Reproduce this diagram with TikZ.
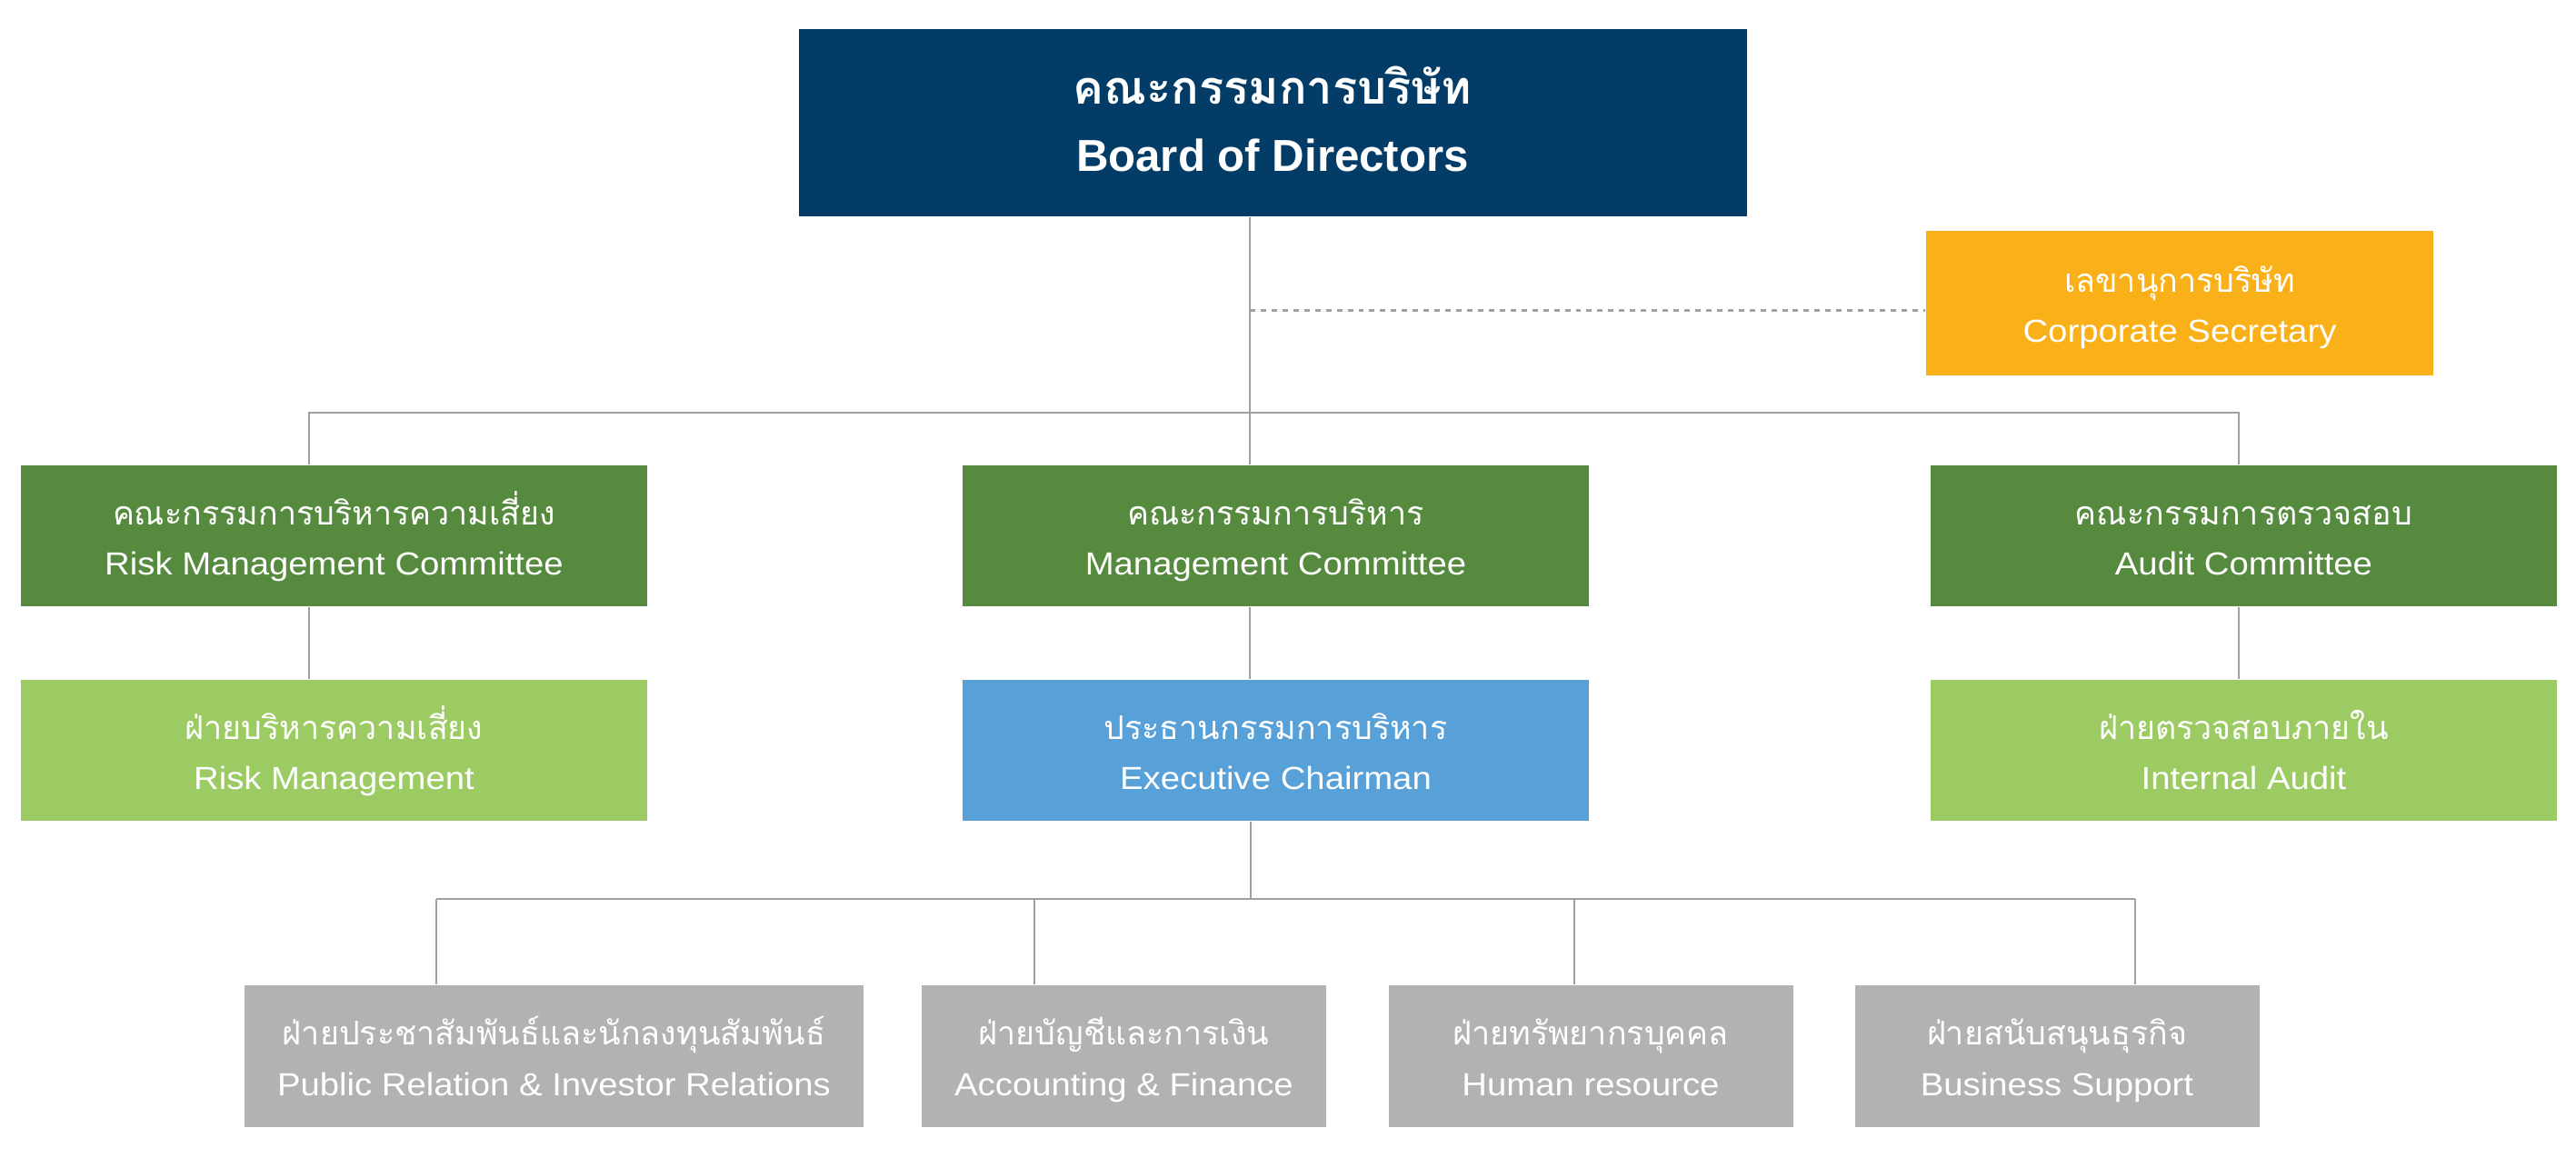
\documentclass[tikz,border=0pt]{standalone}
\usepackage{fontspec}
\setmainfont{Liberation Sans}[FakeStretch=1.09]
\newfontfamily\boardfont{Liberation Sans}
\newfontfamily\thaifont{Loma}[Script=Thai]
\usepackage{tikz}
\usetikzlibrary{calc}
\definecolor{boardblue}{RGB}{3,61,103}
\definecolor{secgold}{RGB}{250,176,24}
\definecolor{darkgreen}{RGB}{86,139,63}
\definecolor{lightgreen}{RGB}{156,203,99}
\definecolor{chairblue}{RGB}{88,160,216}
\definecolor{deptgray}{RGB}{178,178,178}
\definecolor{linegray}{RGB}{160,160,160}
\newcommand{\thline}[1]{{\thaifont\fontsize{10.2}{15.9}\selectfont #1}}

\begin{document}
\begin{tikzpicture}[
    unit/.style={minimum width=6.89cm, minimum height=1.55cm, inner sep=0pt, text=white, align=center,
                 text height=0.87cm, text depth=0cm, font=\fontsize{10}{15.9}\selectfont},
    dept/.style={unit, fill=deptgray, minimum width=4.45cm, minimum height=1.56cm},
    link/.style={draw=linegray, line width=0.6pt},
    dashlink/.style={link, dash pattern=on 1.7pt off 1.7pt},
]
    \useasboundingbox (0,0) rectangle (28.34,-12.74);

    % Board and secretary
    \node[unit, fill=boardblue, minimum width=10.43cm, minimum height=2.06cm, text height=1.08cm,
          font=\boardfont\bfseries\fontsize{14}{21.3}\selectfont] (board) at (14.00,-1.35)
          {{\thaifont\bfseries\fontsize{14.4}{21.3}\selectfont คณะกรรมการบริษัท}\\Board of Directors};
    \node[unit, fill=secgold, minimum width=5.58cm, minimum height=1.59cm] (corp) at (23.98,-3.335)
          {\thline{เลขานุการบริษัท}\\Corporate Secretary};

    % Committees
    \node[unit, fill=darkgreen] (rmc) at (3.675,-5.895) {\thline{คณะกรรมการบริหารความเสี่ยง}\\Risk Management Committee};
    \node[unit, fill=darkgreen] (mc) at (14.035,-5.895) {\thline{คณะกรรมการบริหาร}\\Management Committee};
    \node[unit, fill=darkgreen] (ac) at (24.685,-5.895) {\thline{คณะกรรมการตรวจสอบ}\\Audit Committee};

    % Second row
    \node[unit, fill=lightgreen] (rm) at (3.675,-8.255) {\thline{ฝ่ายบริหารความเสี่ยง}\\Risk Management};
    \node[unit, fill=chairblue] (ec) at (14.035,-8.255) {\thline{ประธานกรรมการบริหาร}\\Executive Chairman};
    \node[unit, fill=lightgreen] (ia) at (24.685,-8.255) {\thline{ฝ่ายตรวจสอบภายใน}\\Internal Audit};

    % Departments
    \node[dept, minimum width=6.81cm] (pr) at (6.095,-11.62) {\thline{ฝ่ายประชาสัมพันธ์และนักลงทุนสัมพันธ์}\\Public Relation \& Investor Relations};
    \node[dept] (af) at (12.365,-11.62) {\thline{ฝ่ายบัญชีและการเงิน}\\Accounting \& Finance};
    \node[dept] (hr) at (17.50,-11.62) {\thline{ฝ่ายทรัพยากรบุคคล}\\Human resource};
    \node[dept] (bs) at (22.63,-11.62) {\thline{ฝ่ายสนับสนุนธุรกิจ}\\Business Support};

    % Bus points
    \coordinate (trunk) at (13.75,-4.54);
    \coordinate (busL) at (3.40,-4.54);
    \coordinate (busR) at (24.63,-4.54);
    \coordinate (secjoin) at ($(corp.west)+(0,-0.08)$);
    \coordinate (split) at (13.76,-9.89);
    \coordinate (prdrop) at (4.80,-9.89);
    \coordinate (afdrop) at (11.38,-9.89);
    \coordinate (hrdrop) at (17.32,-9.89);
    \coordinate (bsdrop) at (23.49,-9.89);

    % Upper links
    \draw[link] (board.south -| trunk) -- (mc.north -| trunk);
    \draw[dashlink] (secjoin -| trunk) -- (secjoin);
    \draw[link] (rmc.north -| busL) |- (busR) -- (ac.north -| busR);
    \draw[link] (rmc.south -| busL) -- (rm.north -| busL);
    \draw[link] (mc.south -| trunk) -- (ec.north -| trunk);
    \draw[link] (ac.south -| busR) -- (ia.north -| busR);

    % Lower links
    \draw[link] (ec.south -| split) -- (split);
    \draw[link] (prdrop) -- (bsdrop);
    \draw[link] (prdrop) -- (pr.north -| prdrop);
    \draw[link] (afdrop) -- (af.north -| afdrop);
    \draw[link] (hrdrop) -- (hr.north -| hrdrop);
    \draw[link] (bsdrop) -- (bs.north -| bsdrop);
\end{tikzpicture}
\end{document}
